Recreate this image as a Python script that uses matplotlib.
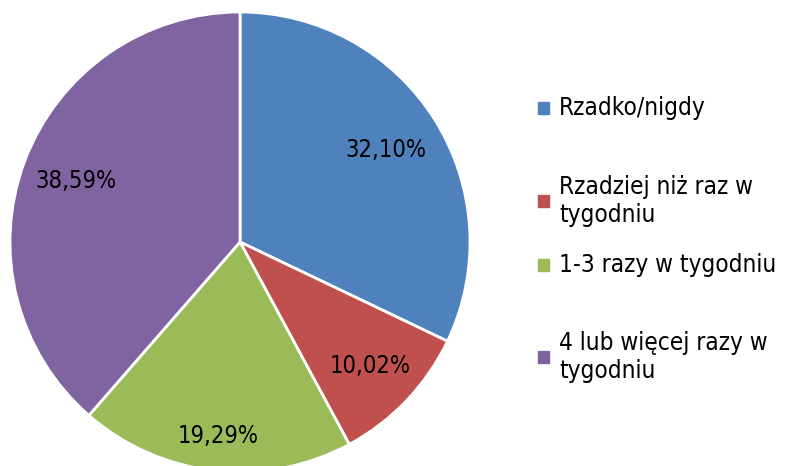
import matplotlib.pyplot as plt
from matplotlib.patches import Rectangle
import numpy as np

kategorie = ["Rzadko/nigdy", "Rzadziej niż raz w\ntygodniu",
             "1-3 razy w tygodniu", "4 lub więcej razy w\ntygodniu"]
procenty = [32.10, 10.02, 19.29, 38.59]
etykiety = ["32,10%", "10,02%", "19,29%", "38,59%"]
kolory = ["#4F81BD", "#C0504D", "#9BBB59", "#8064A2"]

plt.rcParams['font.family'] = ['DejaVu Sans']

fig = plt.figure(figsize=(7.93, 4.66), dpi=100)
ax = fig.add_axes([10/793, -6/466, 460/793, 460/466])

kliny, _ = ax.pie(procenty, colors=kolory, startangle=90, counterclock=False,
                  radius=1, wedgeprops=dict(edgecolor="white", linewidth=2))
ax.set_xlim(-1, 1)
ax.set_ylim(-1, 1)
ax.set_aspect("equal")

# odleglosc etykiet od srodka (jak w Excelu, "najlepsze dopasowanie")
odl = [0.75, 0.78, 0.85, 0.76]
for w, t, d in zip(kliny, etykiety, odl):
    kat = np.deg2rad((w.theta1 + w.theta2) / 2)
    ax.text(d * np.cos(kat), d * np.sin(kat), t, ha="center", va="center",
            fontsize=17, stretch="condensed")

# legenda
y_leg = [108, 201, 265, 357]
for k, c, y in zip(kategorie, kolory, y_leg):
    fig.patches.append(Rectangle((538/793, 1 - (y + 6)/466), 11/793, 12/466,
                                 transform=fig.transFigure, color=c))
    fig.text(559/793, 1 - y/466, k, ha="left", va="center", fontsize=17.5,
             linespacing=1.25, stretch="condensed")

fig.savefig("out.png", dpi=100)
